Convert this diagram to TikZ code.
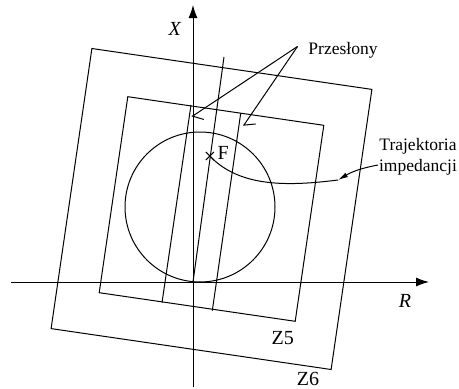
\documentclass[tikz,border=0pt]{standalone}
\usepackage{fontspec}
\setmainfont{Liberation Serif}
\usetikzlibrary{arrows.meta}

\begin{document}
\begin{tikzpicture}[x=1pt, y=-1pt, line width=1pt,
    txt/.style={font=\fontsize{17.5}{21.3}\selectfont, inner sep=0pt},
    big/.style={font=\fontsize{20}{24}\selectfont, inner sep=0pt},
    axis/.style={-{Latex[length=13pt,width=9pt]}},
    barb/.style={-{Straight Barb[harpoon,length=7.5pt,width=18pt]}},
    pointer/.style={-{Latex[length=10pt,width=5pt]}}]

\useasboundingbox (0,0) rectangle (459,389);

% Axes
\coordinate (O) at (193,282);
\coordinate (xtop) at (193,5);
\coordinate (xbot) at (193,387);
\coordinate (rleft) at (11,282);
\coordinate (rright) at (429,282);
\draw[axis] (xbot) -- (xtop);
\draw[axis] (rleft) -- (rright);
\node[big] (xlbl) at (175,29) {\textit{X}};
\node[big] (rlbl) at (405,301) {\textit{R}};

% Zone 6 (outer square)
\draw (91.9,48.5) -- (371.9,89.4) -- (331.1,369.5) -- (51.1,328.6) -- cycle;
\node[big] (z6) at (308,378.5) {Z6};

% Zone 5 (inner square)
\draw (127.8,96.7) -- (323.8,125.3) -- (295.2,321.3) -- (99.2,292.7) -- cycle;
\node[big] (z5) at (282.7,338) {Z5};

% Impedance circle
\draw (200,207) circle [radius=75];

% Line angle
\coordinate (ltop) at (224,57);
\draw (O) -- (ltop);

% Blinders
\coordinate (bl1top) at (191,105);
\coordinate (bl1bot) at (162,302.7);
\coordinate (bl2top) at (240.7,113.3);
\coordinate (bl2bot) at (212.3,310.7);
\draw (bl1top) -- (bl1bot);
\draw (bl2top) -- (bl2bot);

% Fault point
\coordinate (F) at (209.8,156);
\draw (F) +(-4,-4) -- +(4,4);
\draw (F) +(-4,4) -- +(4,-4);
\node[big, anchor=west] (flbl) at (217,153) {F};

% Impedance trajectory
\coordinate (tend) at (338,180);
\draw (F) .. controls (240,188) and (290,186) .. (tend);

% Blinder label
\node[txt] (przes) at (343,50) {Przesłony};
\coordinate (p0) at (297.5,46.5);
\coordinate (b1) at (191.7,116.7);
\coordinate (b2) at (243.3,126);
\draw[barb] (p0) -- (b1);
\draw[barb] (p0) -- (b2);

% Trajectory label
\node[txt, align=center] (traj) at (418,157) {Trajektoria\\impedancji};
\coordinate (t0) at (378,165);
\draw[pointer] (t0) to[bend right=10] (tend);

\end{tikzpicture}
\end{document}
